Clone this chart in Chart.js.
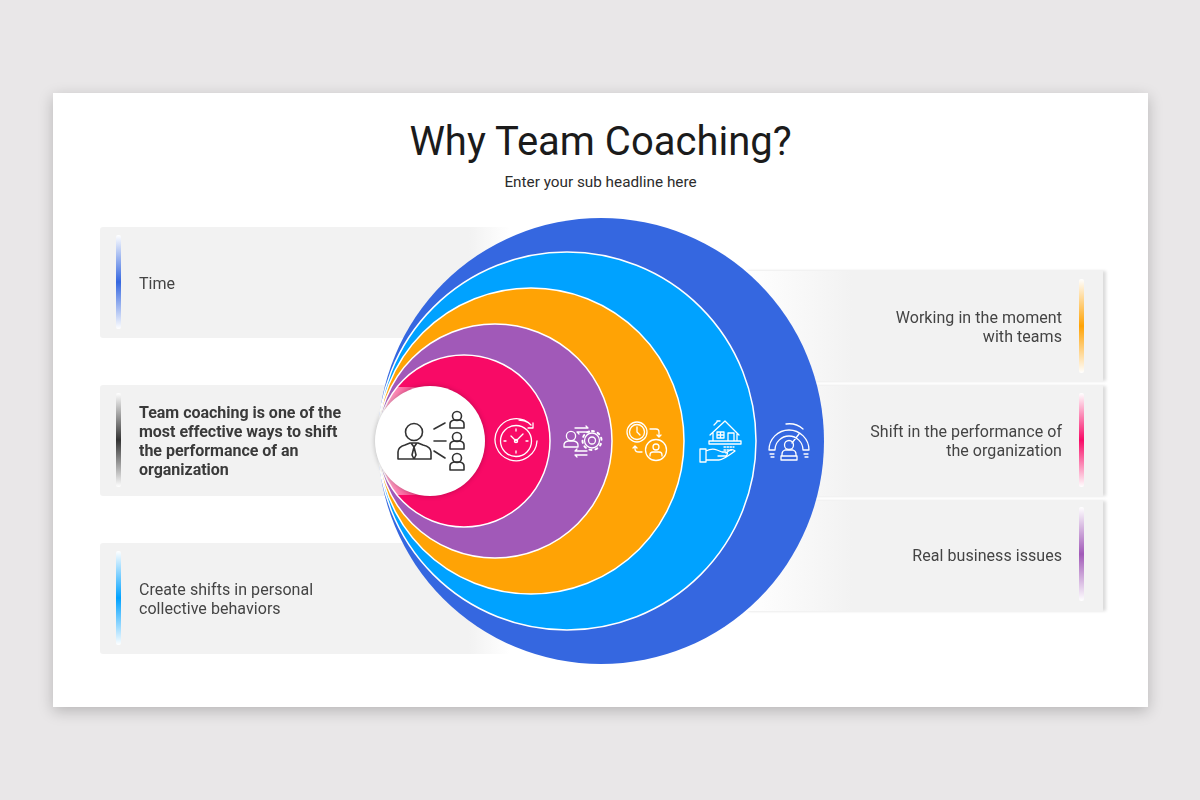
<!DOCTYPE html>
<html><head><meta charset="utf-8">
<script src="https://cdn.jsdelivr.net/npm/chart.js@4"></script>
<style>
html,body{margin:0;padding:0;width:1200px;height:800px;overflow:hidden;background:#e9e7e8;font-family:Roboto,sans-serif}
.abs{position:absolute}
#card{left:53px;top:93px;width:1095px;height:614px;background:#fff;box-shadow:0 4px 14px rgba(0,0,0,.22)}
#title{left:53px;width:1095px;top:117px;text-align:center;font-size:40px;line-height:50px;color:#1b1b1b}
#sub{left:53px;width:1095px;top:173px;text-align:center;font-size:15.3px;line-height:19px;color:#2c2c2c}
.panel{height:111px}
.pl{left:100px;width:410px;background:linear-gradient(90deg,#f2f2f2 0,#f2f2f2 90%,rgba(242,242,242,0) 100%);border-radius:3px}
.pr{left:745px;width:358px;height:110px;background:linear-gradient(90deg,rgba(242,242,242,0) 0,#f2f2f2 30%);box-shadow:3px 0 3px rgba(0,0,0,.14)}
.bar{width:5px;height:94px;border-radius:2px}
.t{font-size:16px;line-height:19px;color:#444;letter-spacing:.05px;white-space:nowrap}
.tr{text-align:right;right:138px}
canvas{position:absolute;left:0;top:0}
svg{position:absolute;left:0;top:0}
</style></head><body>
<div id="card" class="abs"></div>
<div id="title" class="abs">Why Team Coaching?</div>
<div id="sub" class="abs">Enter your sub headline here</div>
<div class="abs panel pl" style="top:227px"></div>
<div class="abs panel pl" style="top:385px"></div>
<div class="abs panel pl" style="top:543px"></div>
<div class="abs panel pr" style="top:271px"></div>
<div class="abs panel pr" style="top:386px"></div>
<div class="abs panel pr" style="top:501px"></div>
<div class="abs bar" style="left:116px;top:235px;background:linear-gradient(180deg,#fff,#3567e0 50%,#fff)"></div>
<div class="abs bar" style="left:116px;top:393px;background:linear-gradient(180deg,#fff,#333 50%,#fff)"></div>
<div class="abs bar" style="left:116px;top:551px;background:linear-gradient(180deg,#fff,#00a2ff 50%,#fff)"></div>
<div class="abs bar" style="left:1079px;top:279px;background:linear-gradient(180deg,#fff,#ffa305 50%,#fff)"></div>
<div class="abs bar" style="left:1079px;top:393px;background:linear-gradient(180deg,#fff,#f80a66 50%,#fff)"></div>
<div class="abs bar" style="left:1079px;top:507px;background:linear-gradient(180deg,#fff,#a159b8 50%,#fff)"></div>
<canvas id="c" width="1200" height="800"></canvas>
<div class="abs t" style="left:139px;top:274px">Time</div>
<div class="abs t" style="left:139px;top:403px;font-weight:700;color:#3a3a3a;letter-spacing:-.02px">Team coaching is one of the<br>most effective ways to shift<br>the performance of an<br>organization</div>
<div class="abs t" style="left:139px;top:580px">Create shifts in personal<br>collective behaviors</div>
<div class="abs t tr" style="top:308px">Working in the moment<br>with teams</div>
<div class="abs t tr" style="top:422px">Shift in the performance of<br>the organization</div>
<div class="abs t tr" style="top:546px">Real business issues</div>
<svg width="1200" height="800" fill="none" stroke-linecap="round" stroke-linejoin="round">
 <g stroke="#333" stroke-width="1.6">
  <circle cx="414" cy="432" r="8.5"/>
  <path d="M398 459v-7q0-5 7-7l5-2h8l5 2q8 2 8 7v7zM411 443l3 4 3-4M414 447l-2 8 2 4 2-4-2-8"/>
  <path d="M434 429l11-6M434 441h12M434 451l11 7"/>
  <g id="mini"><circle cx="457" cy="416" r="4.5"/><path d="M450 428v-4q0-3 4-4h6q4 1 4 4v4z"/></g>
  <use href="#mini" y="21"/><use href="#mini" y="42"/>
 </g>
 <g stroke="#fff" stroke-width="1.3">
  <path d="M531 425a21 21 0 1 0 6 16M519 420a21 21 0 0 1 10 3M533 423v5h-5"/>
  <circle cx="516" cy="441" r="15.5"/>
  <path d="M516 441l-5-5M516 441l7-7M516 429v2M516 451v2M504 441h2M526 441h2"/><circle cx="516" cy="441" r="1.6"/>
  <circle cx="571" cy="436" r="4.6"/><path d="M564 447v-2q0-3 4-4h6q4 1 4 4v2z"/>
  <circle cx="592" cy="440.5" r="3.5"/><circle cx="592" cy="440.5" r="7.5"/>
  <path stroke-width="2" stroke-dasharray="2 4" d="M592 431a9.5 9.5 0 1 1-.01 0"/>
  <path d="M575 428h13l-2-2M589 432h-12l2 2M575 451h12M587 455h-12l2 2M575 451l2-2"/>
  <circle cx="637" cy="432" r="10"/><circle cx="637" cy="432" r="7.5"/><path d="M637 427v5l3 3"/>
  <circle cx="656" cy="450" r="10.5"/><circle cx="656" cy="447" r="3"/><path d="M650 456v-1q0-3 3-3h6q3 0 3 3v1"/>
  <path d="M650 429h6q3 0 3 3v5l-2-2M659 437l2-2M642 452h-3q-4 0-4-3v-3l-2 2M635 446l2 2"/>
  <path d="M710 435l15-14 14 14M714 425l3-3v-1h3M713 433v8M737 433v8M709 441h32v3h-32zM728 441v-8h6v8M717 432h7v6h-7zM720.5 432v6M717 435h7"/>
  <path d="M700 449h6v13h-6zM706 451q6-3 11-1l5 2h4q3 1 0 4h-8M706 460h13q4 0 16-9-2-2-5-1l-4 3"/>
  <path stroke-dasharray="1.5 1.5" d="M724 447h10M724 450h8"/>
  <path d="M769 450a20 20 0 0 1 40 0M775 450a14 14 0 0 1 28 0M769 450h6M803 450h6M786 424a21 21 0 0 1 17 5M770 454h4M804 454h4M771 457h3M805 457h3M799 434l-7 9"/>
  <circle cx="789" cy="445" r="4.5"/><path d="M782 456v-2q0-3 3-4h8q3 1 3 4v2zM781 456h16v4h-16z"/>
 </g>
</svg>
<script>
const categories=["Time","Create shifts in personal collective behaviors","Working in the moment with teams","Real business issues","Shift in the performance of the organization","Team coaching"];
const ringColors=["#3567e0","#00a2ff","#ffa305","#a159b8","#f80a66","#ffffff"];
const ringX=[601,567,531,495,464,430];
const ringY=[441,441,441,441,441,441];
const ringR=[223,189,153,117,86,55];
const ringBorder=[0,1.5,1.5,1.5,1.5,0];
const ringPoints=categories.map((c,i)=>({x:ringX[i],y:ringY[i],r:ringR[i]}));
const glass={
 id:'glass',
 beforeDatasetDraw(chart,args){
  if(args.index!==1)return;
  const {ctx,scales:{x,y}}=chart;
  ctx.save();
  ctx.beginPath();ctx.arc(x.getPixelForValue(ringX[4]),y.getPixelForValue(ringY[4]),ringR[4],0,Math.PI*2);ctx.clip();
  const g=ctx.createLinearGradient(x.getPixelForValue(378),0,x.getPixelForValue(425),0);
  g.addColorStop(0,'rgba(255,255,255,.75)');g.addColorStop(1,'rgba(255,255,255,.12)');
  ctx.fillStyle=g;
  ctx.fillRect(x.getPixelForValue(370),y.getPixelForValue(387),60,y.getPixelForValue(495)-y.getPixelForValue(387));
  ctx.restore();
  ctx.save();ctx.shadowColor='rgba(0,0,0,.25)';ctx.shadowBlur=5;
 },
 afterDatasetDraw(chart,args){ if(args.index===1)chart.ctx.restore(); }
};
new Chart(document.getElementById('c'),{
 type:'bubble',
 data:{datasets:[
  {label:'Rings',data:ringPoints.slice(0,5),backgroundColor:ringColors.slice(0,5),borderColor:'#fff',borderWidth:ringBorder.slice(0,5),hoverRadius:0,order:2},
  {label:'Core',data:ringPoints.slice(5),backgroundColor:ringColors[5],borderWidth:0,hoverRadius:0,order:1}
 ]},
 options:{responsive:false,animation:false,events:[],layout:{padding:0,autoPadding:false},clip:false,
  plugins:{legend:{display:false},tooltip:{enabled:false},title:{display:false}},
  scales:{x:{type:'linear',min:0,max:1200,display:false},y:{type:'linear',min:0,max:800,reverse:true,display:false}}},
 plugins:[glass]
});
</script>
</body></html>
